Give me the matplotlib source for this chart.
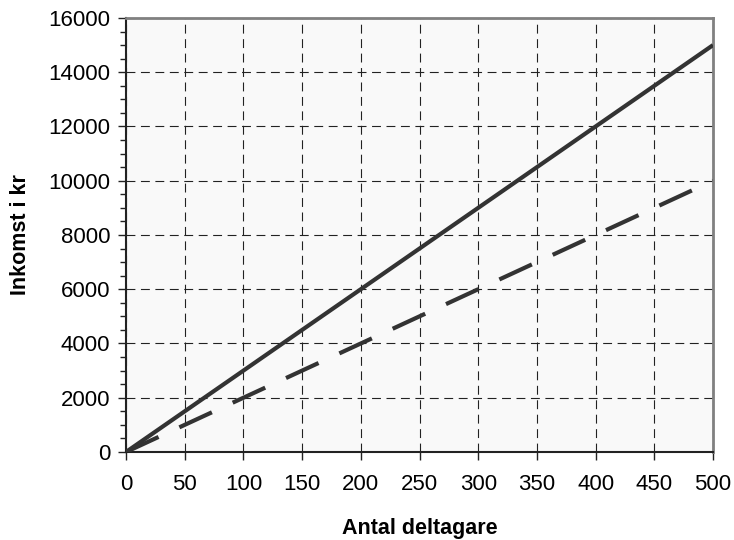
import numpy as np
import matplotlib.pyplot as plt
import matplotlib.ticker as mticker

deltagare = [0, 100, 200, 300, 400, 500]
inkomst_a = [0, 3000, 6000, 9000, 12000, 15000]
inkomst_b = [0, 2000, 4000, 6000, 8000, 10000]

plt.rcParams["font.family"] = ["Liberation Sans", "DejaVu Sans"]

fig = plt.figure(figsize=(7.34, 5.4), dpi=100)
ax = fig.add_axes([0.1717, 0.163, 0.7997, 0.8037])
ax.set_facecolor("#f9f9f9")

ax.plot(deltagare, inkomst_a, color="#333333", linewidth=3, solid_capstyle="butt", zorder=3)
ax.plot(deltagare, inkomst_b, color="#333333", linewidth=3, dashes=(8.6, 5.5), zorder=3)

ax.set_xlim(0, 500)
ax.set_ylim(0, 16000)
ax.xaxis.set_major_locator(mticker.MultipleLocator(50))
ax.yaxis.set_major_locator(mticker.MultipleLocator(2000))
ax.yaxis.set_minor_locator(mticker.MultipleLocator(500))

ax.grid(True, which="major", color="#222222", linestyle=(0, (8, 5)), linewidth=0.8)
ax.set_axisbelow(True)

for s in ["left", "bottom"]:
    ax.spines[s].set_color("#222222")
    ax.spines[s].set_linewidth(1.5)
for s in ["top", "right"]:
    ax.spines[s].set_color("#808080")
    ax.spines[s].set_linewidth(2)

ax.tick_params(axis="both", which="major", direction="out", length=5.5, width=1, labelsize=16, color="#222222")
ax.tick_params(axis="y", which="minor", direction="out", length=4, width=1, color="#222222")
ax.tick_params(axis="y", which="major", pad=6)
ax.tick_params(axis="x", which="major", pad=10)

ax.set_xlabel("Antal deltagare", fontsize=15.5, fontweight="bold", labelpad=17)
ax.set_ylabel("Inkomst i kr", fontsize=15.5, fontweight="bold", labelpad=12)

fig.savefig("out.png", dpi=100)
